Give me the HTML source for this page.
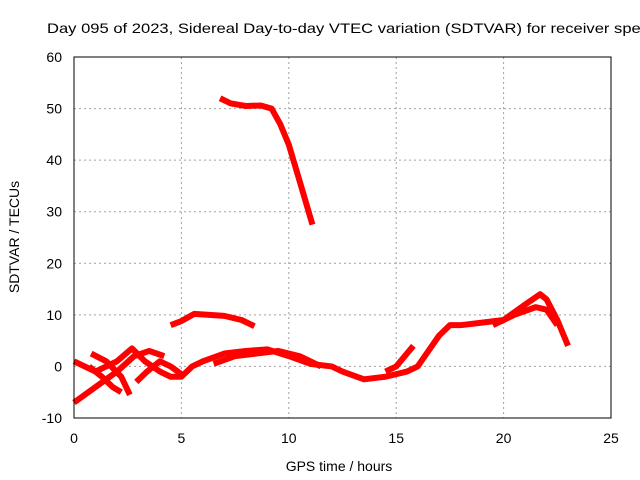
<!DOCTYPE html>
<html><head><meta charset="utf-8"><style>
body{margin:0;background:#fff;}
svg{display:block;font-family:"Liberation Sans",sans-serif;}
</style></head><body>
<svg id="c" width="640" height="480">
<rect width="640" height="480" fill="#fff"/>
<text x="47" y="33" font-size="14" textLength="603" lengthAdjust="spacingAndGlyphs" fill="#000">Day 095 of 2023, Sidereal Day-to-day VTEC variation (SDTVAR) for receiver speq</text>
<g id="grid"></g>
<g id="series"></g>
<rect x="74" y="57" width="537" height="361" fill="none" stroke="#000" stroke-width="1"/>
<g id="ticks"></g>
<text x="339" y="471" font-size="14" text-anchor="middle">GPS time / hours</text>
<text transform="translate(19,237) rotate(-90)" font-size="14" text-anchor="middle">SDTVAR / TECUs</text>
</svg>
<script>
const xTicks=[0,5,10,15,20,25];
const yTicks=[-10,0,10,20,30,40,50,60];
const trackHigh=[[6.8,52],[7.3,51],[8,50.5],[8.7,50.6],[9.2,50],[9.6,47],[10,43],[10.5,36],[11.1,27.5]];
const trackMid=[[4.5,8],[5,8.8],[5.6,10.2],[6.3,10],[7,9.8],[7.8,9],[8.4,7.8]];
const trackMain=[[0,1],[0.5,0],[1,-1],[1.5,0],[2,1],[2.7,3.5],[3.3,1],[4,-1],[4.5,-2],[5,-2],[5.5,0],[6,1],[7,2.5],[8,3],[9,3.3],[10,2],[11,0.5],[12,0],[12.5,-1],[13.5,-2.5],[14.5,-2],[15.5,-1],[16,0],[16.5,3],[17,6],[17.5,8],[18,8],[19,8.5],[20,9],[21,12],[21.7,14],[22,13],[22.5,9],[23,4]];
const trackRise=[[0,-7],[1,-4],[2,-1],[2.8,2],[3.5,3],[4.2,2]];
const trackCross1=[[0.8,2.5],[1.5,1],[2.2,-2],[2.6,-5.5]];
const trackCross2=[[0.7,0],[1.3,-2],[1.8,-4],[2.2,-5]];
const trackCross3=[[2.9,-3],[3.4,-1],[4,1],[4.5,0],[5,-1.5]];
const trackLate=[[6.5,0.5],[7.5,2],[8.5,2.5],[9.5,3],[10.5,2],[11.5,0]];
const trackBranch=[[14.5,-1],[15,0],[15.5,2.5],[15.8,4]];
const trackPeak=[[19.5,8],[20.5,10],[21.5,11.5],[22,11],[22.5,8]];
const tracks=[trackHigh,trackMid,trackMain,trackRise,trackCross1,trackCross2,trackCross3,trackLate,trackBranch,trackPeak];
const X=h=>74+h*537/25, Y=v=>418-(v+10)*361/70;
const NS="http://www.w3.org/2000/svg";
const grid=document.getElementById('grid'),tk=document.getElementById('ticks'),sg=document.getElementById('series');
xTicks.forEach(t=>{
 if(t>0&&t<25){const l=document.createElementNS(NS,'line');l.setAttribute('x1',X(t));l.setAttribute('x2',X(t));l.setAttribute('y1',57);l.setAttribute('y2',418);l.setAttribute('stroke','#a0a0a0');l.setAttribute('stroke-dasharray','2,3');
 
 grid.appendChild(l);}
 const s=document.createElementNS(NS,'text');s.setAttribute('x',X(t));s.setAttribute('y',443);s.setAttribute('font-size','14');s.setAttribute('text-anchor','middle');s.textContent=t;
 
 tk.appendChild(s);
});
yTicks.forEach(t=>{
 if(t>-10&&t<60){const l=document.createElementNS(NS,'line');l.setAttribute('x1',74);l.setAttribute('x2',611);l.setAttribute('y1',Y(t));l.setAttribute('y2',Y(t));l.setAttribute('stroke','#a0a0a0');l.setAttribute('stroke-dasharray','2,3');
 
 grid.appendChild(l);}
 const s=document.createElementNS(NS,'text');s.setAttribute('x',62);s.setAttribute('y',Y(t)+5);s.setAttribute('font-size','14');s.setAttribute('text-anchor','end');s.textContent=t;
 
 tk.appendChild(s);
});
tracks.forEach(tr=>{
 const p=document.createElementNS(NS,'polyline');
 p.setAttribute('points',tr.map(d=>X(d[0])+','+Y(d[1])).join(' '));
 p.setAttribute('fill','none');p.setAttribute('stroke','#ff0000');p.setAttribute('stroke-width','6');p.setAttribute('stroke-linejoin','round');
 
 
 sg.appendChild(p);
});
</script>
</body></html>
